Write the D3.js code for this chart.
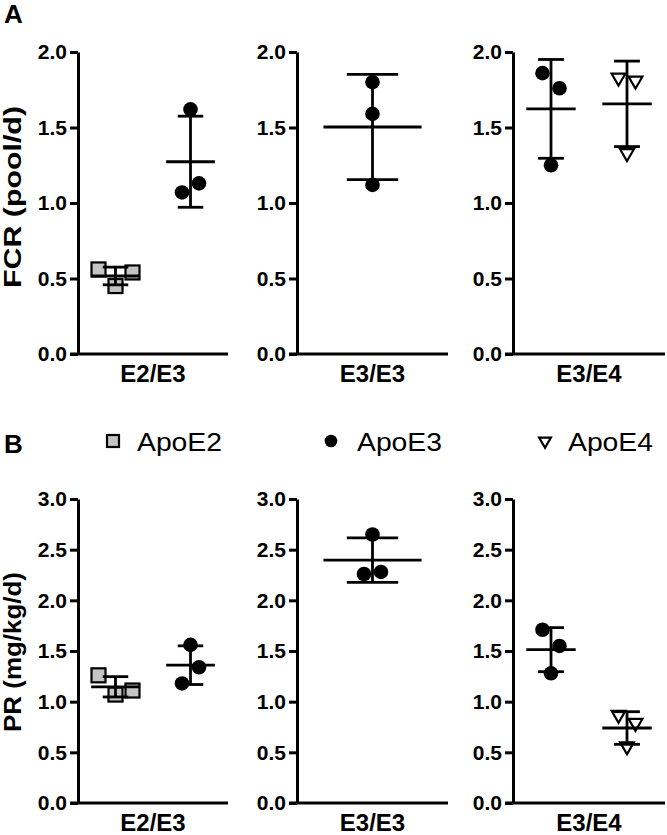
<!DOCTYPE html>
<html>
<head>
<meta charset="utf-8">
<script src="https://cdn.jsdelivr.net/npm/d3@7"></script>
<style>
  html, body { margin: 0; padding: 0; background: #fff; }
  svg { display: block; }
  text { font-family: "Liberation Sans", Arial, Helvetica, sans-serif; fill: #000; }
</style>
</head>
<body>
<svg id="chart" width="667" height="835"></svg>
<script>
// ---------------- data ----------------
const categories = ["E2/E3", "E3/E3", "E3/E4"];
const seriesNames = ["ApoE2", "ApoE3", "ApoE4"];

// Panel A: FCR (pool/d)
const fcrE2_inE2E3 = [0.56, 0.45, 0.54];
const fcrE3_inE2E3 = [1.62, 1.07, 1.13];
const fcrE3_inE3E3 = [1.80, 1.59, 1.12];
const fcrE3_inE3E4 = [1.86, 1.76, 1.25];
const fcrE4_inE3E4 = [1.83, 1.81, 1.33];

// Panel B: PR (mg/kg/d)
const prE2_inE2E3 = [1.26, 1.07, 1.11];
const prE3_inE2E3 = [1.56, 1.18, 1.34];
const prE3_inE3E3 = [2.65, 2.26, 2.28];
const prE3_inE3E4 = [1.71, 1.55, 1.28];
const prE4_inE3E4 = [0.87, 0.79, 0.56];

const ticksFCR = [0, 0.5, 1.0, 1.5, 2.0];
const ticksPR = [0, 0.5, 1.0, 1.5, 2.0, 2.5, 3.0];

// ---------------- build ----------------
const rows = [
  {
    letter: "A", title: "FCR (pool/d)", ticks: ticksFCR,
    yTop: 52, yBottom: 354, letterY: 23, titleCenter: 197, titleLen: 182,
    panels: [
      [["ApoE2", fcrE2_inE2E3], ["ApoE3", fcrE3_inE2E3]],
      [["ApoE3", fcrE3_inE3E3]],
      [["ApoE3", fcrE3_inE3E4], ["ApoE4", fcrE4_inE3E4]]
    ]
  },
  {
    letter: "B", title: "PR (mg/kg/d)", ticks: ticksPR,
    yTop: 499, yBottom: 803, letterY: 453, titleCenter: 652, titleLen: 160,
    panels: [
      [["ApoE2", prE2_inE2E3], ["ApoE3", prE3_inE2E3]],
      [["ApoE3", prE3_inE3E3]],
      [["ApoE3", prE3_inE3E4], ["ApoE4", prE4_inE3E4]]
    ]
  }
];

const panelX = [[78, 228], [297, 448], [513, 665]];
const svg = d3.select("#chart");
const fmt = d3.format(".1f");

function drawMarker(g, series, x, y, size) {
  if (series === "ApoE2") {
    g.append("rect")
      .attr("x", x - size / 2).attr("y", y - size / 2)
      .attr("width", size).attr("height", size)
      .attr("fill", "#c4c4c4").attr("stroke", "#000").attr("stroke-width", 2.2);
  } else if (series === "ApoE3") {
    g.append("circle").attr("cx", x).attr("cy", y).attr("r", size / 2 + 0.3)
      .attr("fill", "#000");
  } else {
    g.append("path")
      .attr("d", d3.symbol(d3.symbolTriangle, size * size * 0.42)())
      .attr("transform", `translate(${x},${y}) rotate(180)`)
      .attr("fill", "#fff").attr("stroke", "#000").attr("stroke-width", 2.2)
      .attr("stroke-linejoin", "miter");
  }
}

rows.forEach(row => {
  svg.append("text")
    .attr("x", 4).attr("y", row.letterY)
    .attr("font-size", 26).attr("font-weight", "bold")
    .text(row.letter);

  svg.append("text")
    .attr("transform", `translate(21,${row.titleCenter}) rotate(-90)`)
    .attr("text-anchor", "middle")
    .attr("font-size", 24).attr("font-weight", "bold")
    .attr("textLength", row.titleLen).attr("lengthAdjust", "spacingAndGlyphs")
    .text(row.title);

  const y = d3.scaleLinear()
    .domain([0, d3.max(row.ticks)])
    .range([row.yBottom, row.yTop]);

  row.panels.forEach((groups, pi) => {
    const [x0, x1] = panelX[pi];
    const g = svg.append("g");

    // y axis
    const yAxis = d3.axisLeft(y).tickValues(row.ticks).tickFormat(fmt)
      .tickSizeInner(8).tickSizeOuter(0).tickPadding(3);
    const ga = g.append("g").attr("transform", `translate(${x0},0)`).call(yAxis);
    ga.select(".domain").attr("stroke", "#000").attr("stroke-width", 3);
    ga.selectAll(".tick line").attr("stroke", "#000").attr("stroke-width", 3);
    ga.selectAll(".tick text")
      .attr("font-size", 21).attr("font-weight", "bold")
      .attr("font-family", "'Liberation Sans', Arial, sans-serif")
      .attr("fill", "#000");

    // x axis (category band)
    const xCat = d3.scaleBand().domain([categories[pi]]).range([x0, x1]);
    const xAxis = d3.axisBottom(xCat).tickSize(0).tickPadding(11);
    const gx = g.append("g").attr("transform", `translate(0,${row.yBottom})`).call(xAxis);
    gx.select(".domain").attr("stroke", "#000").attr("stroke-width", 3)
      .attr("d", `M${x0 - 8},0H${x1}`);
    gx.selectAll(".tick text")
      .attr("font-size", 24).attr("font-weight", "bold")
      .attr("font-family", "'Liberation Sans', Arial, sans-serif")
      .attr("fill", "#000").attr("dy", "0.71em");

    // groups within panel
    const xs = d3.scaleBand().domain(groups.map(d => d[0])).range([x0, x1]).padding(0);
    const bw = xs.bandwidth();

    groups.forEach(([series, vals]) => {
      const cx = xs(series) + bw / 2;
      // spread overlapping points horizontally
      const py = vals.map(v => y(v));
      const order = d3.range(vals.length).sort((a, b) => py[a] - py[b]);
      const clusters = [];
      order.forEach((idx, k) => {
        if (k > 0 && py[idx] - py[order[k - 1]] < 18) clusters[clusters.length - 1].push(idx);
        else clusters.push([idx]);
      });
      const off = new Array(vals.length).fill(0);
      clusters.forEach(c => {
        c.sort((a, b) => a - b);
        c.forEach((idx, k) => { off[idx] = (k - (c.length - 1) / 2) * 17; });
      });
      vals.forEach((v, i) => drawMarker(g, series, cx + off[i], y(v), 14));

      const m = d3.mean(vals), sd = d3.deviation(vals);
      const meanW = bw * 0.65, capW = bw * 0.34;
      const lines = [
        [cx - meanW / 2, y(m), cx + meanW / 2, y(m)],
        [cx - capW / 2, y(m + sd), cx + capW / 2, y(m + sd)],
        [cx - capW / 2, y(m - sd), cx + capW / 2, y(m - sd)],
        [cx, y(m + sd), cx, y(m - sd)]
      ];
      g.selectAll(null).data(lines).enter().append("line")
        .attr("x1", d => d[0]).attr("y1", d => d[1])
        .attr("x2", d => d[2]).attr("y2", d => d[3])
        .attr("stroke", "#000").attr("stroke-width", 2.8);
    });
  });
});

// legend
const legendPos = [[113, 137], [331, 357], [545, 568]];
seriesNames.forEach((s, i) => {
  const [mx, tx] = legendPos[i];
  const lg = svg.append("g");
  drawMarker(lg, s, mx, 441, 12);
  lg.append("text").attr("x", tx).attr("y", 451)
    .attr("font-size", 26)
    .attr("textLength", 85).attr("lengthAdjust", "spacingAndGlyphs")
    .text(s);
});
</script>
</body>
</html>
